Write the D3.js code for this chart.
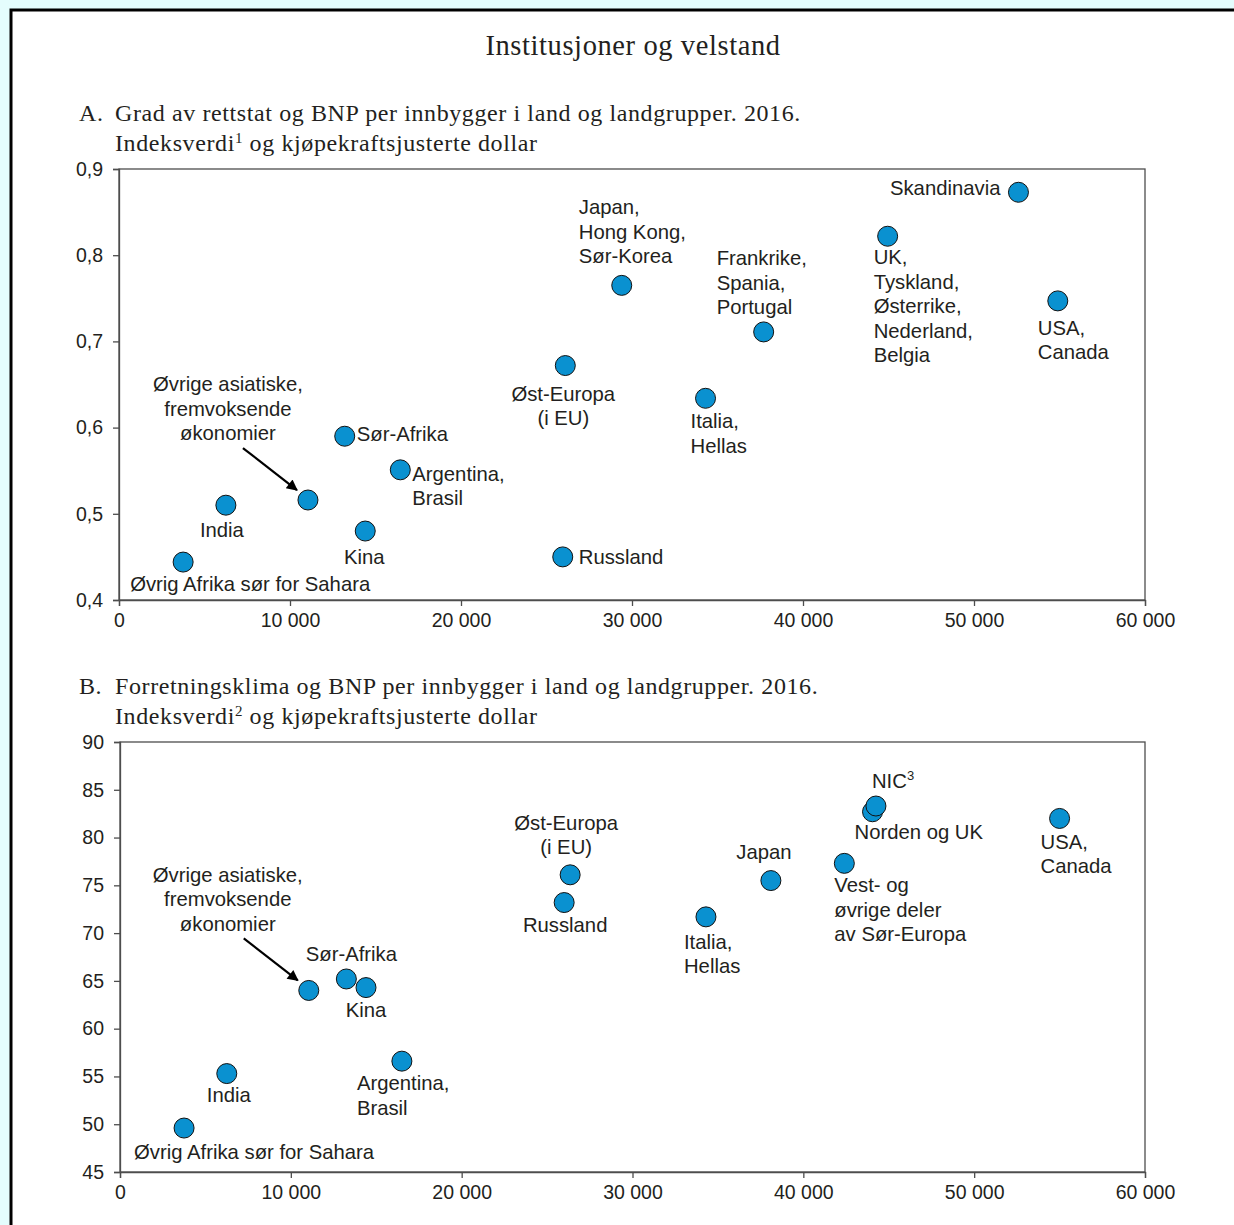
<!DOCTYPE html>
<html>
<head>
<meta charset="utf-8">
<script src="https://cdn.jsdelivr.net/npm/d3@7"></script>
<style>
  html, body { margin: 0; padding: 0; background: #e4fdfd; }
  svg { display: block; }
</style>
</head>
<body>
<svg id="chart" width="1234" height="1225"></svg>
<script>
// ---------------- DATA ----------------
const xTicks = [0, 10000, 20000, 30000, 40000, 50000, 60000];

// Panel A: rule of law index vs GDP per capita
const namesA = ["Skandinavia", "UK, Tyskland, Østerrike, Nederland, Belgia", "USA, Canada",
  "Japan, Hong Kong, Sør-Korea", "Frankrike, Spania, Portugal", "Øst-Europa (i EU)",
  "Italia, Hellas", "Sør-Afrika", "Argentina, Brasil", "Øvrige asiatiske, fremvoksende økonomier",
  "India", "Kina", "Russland", "Øvrig Afrika sør for Sahara"];
const gdpA = [52600, 44950, 54900, 29400, 37700, 26100, 34300, 13200, 16450, 11050, 6250, 14400, 25950, 3750];
const indexA = [0.873, 0.822, 0.747, 0.765, 0.711, 0.672, 0.634, 0.590, 0.551, 0.516, 0.510, 0.480, 0.450, 0.444];
const yTicksA = [0.4, 0.5, 0.6, 0.7, 0.8, 0.9];

// Panel B: business climate index vs GDP per capita
const namesB = ["USA, Canada", "Norden og UK", "NIC", "Vest- og øvrige deler av Sør-Europa", "Japan",
  "Italia, Hellas", "Øst-Europa (i EU)", "Russland", "Sør-Afrika", "Kina",
  "Øvrige asiatiske, fremvoksende økonomier", "Argentina, Brasil", "India", "Øvrig Afrika sør for Sahara"];
const gdpB = [55000, 44050, 44250, 42400, 38100, 34300, 26350, 26000, 13250, 14400, 11050, 16500, 6250, 3750];
const indexB = [82.0, 82.7, 83.3, 77.3, 75.5, 71.7, 76.1, 73.2, 65.2, 64.3, 64.0, 56.6, 55.3, 49.6];
const yTicksB = [45, 50, 55, 60, 65, 70, 75, 80, 85, 90];

// ---------------- LABEL LAYOUT (offsets relative to point, px) ----------------
const labelsA = [
  { lines: ["Skandinavia"], dx: -18, dy: -4, anchor: "end" },
  { lines: ["UK,", "Tyskland,", "Østerrike,", "Nederland,", "Belgia"], dx: -14, dy: 21, anchor: "start" },
  { lines: ["USA,", "Canada"], dx: -20, dy: 27, anchor: "start" },
  { lines: ["Japan,", "Hong Kong,", "Sør-Korea"], dx: -43, dy: -78, anchor: "start" },
  { lines: ["Frankrike,", "Spania,", "Portugal"], dx: -47, dy: -74, anchor: "start" },
  { lines: ["Øst-Europa", "(i EU)"], dx: -2, dy: 28, anchor: "middle" },
  { lines: ["Italia,", "Hellas"], dx: -15, dy: 23, anchor: "start" },
  { lines: ["Sør-Afrika"], dx: 12, dy: -2, anchor: "start" },
  { lines: ["Argentina,", "Brasil"], dx: 12, dy: 4, anchor: "start" },
  { lines: ["Øvrige asiatiske,", "fremvoksende", "økonomier"], dx: -80, dy: -116, anchor: "middle", arrow: true },
  { lines: ["India"], dx: -4, dy: 25, anchor: "middle" },
  { lines: ["Kina"], dx: -1, dy: 26, anchor: "middle" },
  { lines: ["Russland"], dx: 16, dy: 0, anchor: "start" },
  { lines: ["Øvrig Afrika sør for Sahara"], dx: -53, dy: 22, anchor: "start" }
];
const labelsB = [
  { lines: ["USA,", "Canada"], dx: -19, dy: 23, anchor: "start" },
  { lines: ["Norden og UK"], dx: -18, dy: 20, anchor: "start" },
  { lines: ["NIC³"], dx: -4, dy: -25, anchor: "start" },
  { lines: ["Vest- og", "øvrige deler", "av Sør-Europa"], dx: -10, dy: 22, anchor: "start" },
  { lines: ["Japan"], dx: -7, dy: -29, anchor: "middle" },
  { lines: ["Italia,", "Hellas"], dx: -22, dy: 25, anchor: "start" },
  { lines: ["Øst-Europa", "(i EU)"], dx: -4, dy: -52, anchor: "middle" },
  { lines: ["Russland"], dx: 1, dy: 22, anchor: "middle" },
  { lines: ["Sør-Afrika"], dx: 5, dy: -25, anchor: "middle" },
  { lines: ["Kina"], dx: 0, dy: 22, anchor: "middle" },
  { lines: ["Øvrige asiatiske,", "fremvoksende", "økonomier"], dx: -81, dy: -116, anchor: "middle", arrow: true },
  { lines: ["Argentina,", "Brasil"], dx: -45, dy: 22, anchor: "start" },
  { lines: ["India"], dx: 2, dy: 21, anchor: "middle" },
  { lines: ["Øvrig Afrika sør for Sahara"], dx: -50, dy: 24, anchor: "start" }
];

// ---------------- DRAWING ----------------
const svg = d3.select("#chart");
const W = 1234, H = 1225;
const locale = d3.formatLocale({ decimal: ",", thousands: "\u00a0", grouping: [3], currency: ["", ""] });
const fmtX = locale.format(",.0f");
const fmtA = locale.format(".1f");
const fmtB = locale.format("d");

const sans = "'Liberation Sans', Arial, Helvetica, sans-serif";
const serif = "'Liberation Serif', 'Times New Roman', serif";
const dotFill = "#0a91d0";
const textColor = "#231f20";
const axisColor = "#4d4d4d";

// background frame
svg.append("rect").attr("x", 0).attr("y", 0).attr("width", W).attr("height", H).attr("fill", "#e4fdfd");
svg.append("rect").attr("x", 11).attr("y", 10).attr("width", W + 20).attr("height", H + 20)
  .attr("fill", "#ffffff").attr("stroke", "#000").attr("stroke-width", 3);

svg.append("defs").append("marker")
  .attr("id", "arrow").attr("viewBox", "0 0 10 10").attr("refX", 9).attr("refY", 5)
  .attr("markerWidth", 15).attr("markerHeight", 11).attr("markerUnits", "userSpaceOnUse")
  .attr("orient", "auto")
  .append("path").attr("d", "M0,0 L10,5 L0,10 z").attr("fill", "#000");

// main title
svg.append("text").attr("x", 633).attr("y", 55).attr("text-anchor", "middle")
  .attr("font-family", serif).attr("font-size", 28.5).attr("letter-spacing", 0.6).attr("fill", textColor)
  .text("Institusjoner og velstand");

function subtitle(letter, line1, sup, y) {
  const g = svg.append("g").attr("font-family", serif).attr("font-size", 24)
    .attr("letter-spacing", 0.6).attr("fill", textColor);
  g.append("text").attr("x", 79).attr("y", y).text(letter);
  g.append("text").attr("x", 115).attr("y", y).text(line1);
  const t = g.append("text").attr("x", 115).attr("y", y + 30);
  t.append("tspan").text("Indeksverdi");
  t.append("tspan").attr("font-size", 15).attr("dy", -8).text(sup);
  t.append("tspan").attr("dy", 8).text(" og kjøpekraftsjusterte dollar");
}
subtitle("A.", "Grad av rettstat og BNP per innbygger i land og landgrupper. 2016.", "1", 121);
subtitle("B.", "Forretningsklima og BNP per innbygger i land og landgrupper. 2016.", "2", 694);

function panel(opts) {
  const { left, right, top, bottom, yDomain, yTicks, yFmt, names, gdp, idx, labels } = opts;
  const x = d3.scaleLinear().domain([0, 60000]).range([left, right]);
  const y = d3.scaleLinear().domain(yDomain).range([bottom, top]);
  const g = svg.append("g");

  g.append("rect").attr("x", left).attr("y", top).attr("width", right - left).attr("height", bottom - top)
    .attr("fill", "none").attr("stroke", axisColor).attr("stroke-width", 1.3);

  const xa = g.append("g").attr("transform", `translate(0,${bottom})`)
    .call(d3.axisBottom(x).tickValues(xTicks).tickFormat(fmtX).tickSize(6).tickPadding(7));
  const ya = g.append("g").attr("transform", `translate(${left},0)`)
    .call(d3.axisLeft(y).tickValues(yTicks).tickFormat(yFmt).tickSize(6).tickPadding(10));
  [xa, ya].forEach(a => {
    a.select(".domain").attr("stroke", axisColor).attr("stroke-width", 1.3);
    a.selectAll(".tick line").attr("stroke", axisColor).attr("stroke-width", 1.3);
    a.selectAll(".tick text").attr("font-family", sans).attr("font-size", 19.5).attr("fill", textColor);
  });
  ya.selectAll(".tick text").attr("dy", "0.32em");

  const pts = names.map((n, i) => ({ name: n, gx: gdp[i], gy: idx[i], lab: labels[i] }));

  pts.forEach(p => {
    const px = x(p.gx), py = y(p.gy);
    const L = p.lab;
    const t = g.append("text").attr("font-family", sans).attr("font-size", 20.3).attr("fill", textColor)
      .attr("text-anchor", L.anchor);
    L.lines.forEach((ln, k) => {
      const tx = px + L.dx, ty = py + L.dy + k * 24.5;
      const sp = t.append("tspan").attr("x", tx).attr("y", ty).attr("dy", "0.35em");
      if (ln.endsWith("³")) {
        sp.text(ln.slice(0, -1));
        t.append("tspan").attr("font-size", 13).attr("dy", "-0.6em").text("3");
      } else sp.text(ln);
    });
    if (L.arrow) {
      g.append("line")
        .attr("x1", px - 65).attr("y1", py - 52)
        .attr("x2", px - 11).attr("y2", py - 10)
        .attr("stroke", "#000").attr("stroke-width", 2.2).attr("marker-end", "url(#arrow)");
    }
  });

  g.selectAll("circle.pt").data(pts).enter().append("circle").attr("class", "pt")
    .attr("cx", d => x(d.gx)).attr("cy", d => y(d.gy)).attr("r", 10)
    .attr("fill", dotFill).attr("stroke", "#111").attr("stroke-width", 1);
}

panel({ left: 119, right: 1145, top: 169, bottom: 600, yDomain: [0.4, 0.9], yTicks: yTicksA, yFmt: fmtA,
  names: namesA, gdp: gdpA, idx: indexA, labels: labelsA });
panel({ left: 120, right: 1145, top: 742, bottom: 1172, yDomain: [45, 90], yTicks: yTicksB, yFmt: fmtB,
  names: namesB, gdp: gdpB, idx: indexB, labels: labelsB });
</script>
</body>
</html>
